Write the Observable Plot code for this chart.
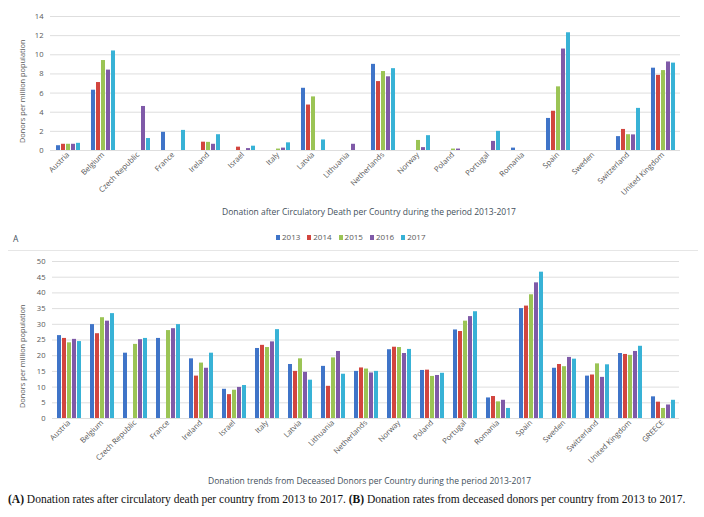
<!DOCTYPE html>
<html>
<head>
<meta charset="utf-8">
<script src="https://cdn.jsdelivr.net/npm/d3@7"></script>
<script src="https://cdn.jsdelivr.net/npm/@observablehq/plot@0.6"></script>
<style>
  html, body { margin: 0; padding: 0; background: #fff; }
  #wrap { position: relative; width: 704px; height: 517px; overflow: hidden; background: #fff; }
  .abs { position: absolute; white-space: nowrap; }
  .ttl { font-family: "Open Sans", sans-serif; font-size: 8.5px; color: #44505c; }
  .ylab { font-family: "Open Sans", sans-serif; font-size: 7.4px; color: #595959; transform-origin: 0 0; transform: rotate(-90deg); }
  .leg { font-family: "Open Sans", sans-serif; font-size: 8px; color: #595959; display: flex; gap: 7px; align-items: center; }
  .leg span.sw { display: inline-block; width: 4px; height: 5px; margin-right: 2px; }
  .cap { font-family: "Liberation Serif", serif; font-size: 11.5px; color: #111; }
  .sep { position: absolute; height: 1px; background: #e6e6e6; }
</style>
</head>
<body>
<div id="wrap"></div>
<script>
const years = ["2013", "2014", "2015", "2016", "2017"];
const colors = ["#3f74c8", "#d2453f", "#9bc455", "#7f5aa8", "#38b2d6"];

// Panel A: donation after circulatory death
const countriesA = ["Austria", "Belgium", "Czech Republic", "France", "Ireland", "Israel", "Italy", "Latvia", "Lithuania", "Netherlands", "Norway", "Poland", "Portugal", "Romania", "Spain", "Sweden", "Switzerland", "United Kingdom"];
const dcd2013 = [0.5, 6.3, 0, 1.9, 0, 0, 0, 6.5, 0, 9.0, 0, 0, 0, 0.25, 3.35, 0, 1.45, 8.6];
const dcd2014 = [0.65, 7.1, 0, 0, 0.87, 0.35, 0, 4.75, 0, 7.2, 0, 0, 0, 0, 4.1, 0, 2.2, 7.85];
const dcd2015 = [0.65, 9.4, 0, 0, 0.85, 0, 0.15, 5.6, 0, 8.25, 1.05, 0.15, 0, 0, 6.65, 0, 1.65, 8.35];
const dcd2016 = [0.65, 8.4, 4.6, 0, 0.65, 0.2, 0.25, 0, 0.65, 7.7, 0.3, 0.15, 0.95, 0, 10.6, 0, 1.63, 9.25];
const dcd2017 = [0.75, 10.4, 1.25, 2.1, 1.65, 0.45, 0.8, 1.1, 0, 8.55, 1.55, 0, 2.0, 0, 12.3, 0, 4.4, 9.13];
const ticksA = [0, 2, 4, 6, 8, 10, 12, 14];

// Panel B: deceased donors
const countriesB = ["Austria", "Belgium", "Czech Republic", "France", "Ireland", "Israel", "Italy", "Latvia", "Lithuania", "Netherlands", "Norway", "Poland", "Portugal", "Romania", "Spain", "Sweden", "Switzerland", "United Kingdom", "GREECE"];
const dd2013 = [26.4, 29.9, 20.8, 25.5, 19.0, 9.3, 22.3, 17.2, 16.6, 15.0, 21.9, 15.3, 28.2, 6.55, 35.0, 16.0, 13.5, 20.7, 6.9];
const dd2014 = [25.5, 27.0, 0, 0, 13.5, 7.6, 23.3, 15.0, 10.25, 16.1, 22.7, 15.4, 27.7, 7.0, 35.8, 17.2, 13.85, 20.4, 5.2];
const dd2015 = [24.1, 32.1, 23.6, 28.0, 17.65, 9.0, 22.6, 19.0, 19.3, 15.75, 22.6, 13.4, 31.0, 5.3, 39.4, 16.5, 17.4, 20.1, 3.2];
const dd2016 = [25.2, 31.0, 25.1, 28.6, 16.0, 9.9, 24.4, 14.7, 21.35, 14.5, 20.7, 13.7, 32.45, 5.8, 43.2, 19.45, 13.1, 21.35, 4.3];
const dd2017 = [24.5, 33.4, 25.5, 29.9, 20.8, 10.5, 28.3, 12.2, 14.1, 15.0, 22.0, 14.4, 34.0, 3.2, 46.6, 18.9, 17.1, 23.0, 5.8];
const ticksB = [0, 5, 10, 15, 20, 25, 30, 35, 40, 45, 50];

const titleA = "Donation after Circulatory Death per Country during the period 2013-2017";
const titleB = "Donation trends from Deceased Donors per Country during the period 2013-2017";
const yLabel = "Donors per million population";

function toRows(countries, series) {
  const rows = [];
  countries.forEach((c, i) => {
    series.forEach((s, j) => rows.push({country: c, year: years[j], value: s[i]}));
  });
  return rows;
}

function panel(countries, series, ticks, height, marginTop, marginBottom) {
  const data = toRows(countries, series);
  return Plot.plot({
    width: 704,
    height,
    marginLeft: 50,
    marginRight: 24,
    marginTop,
    marginBottom,
    style: {fontFamily: "Open Sans, sans-serif", fontSize: "7.6px", color: "#595959", background: "transparent", overflow: "visible"},
    facet: {data, x: "country"},
    fx: {domain: countries, padding: 0, axis: "bottom", label: null, tickRotate: -45, tickSize: 0, tickPadding: 3},
    x: {domain: years, axis: null, paddingInner: 0.2, paddingOuter: 0.8},
    y: {domain: [0, ticks[ticks.length - 1]], ticks, tickSize: 0, tickPadding: 7, label: null},
    color: {domain: years, range: colors},
    marks: [
      Plot.ruleY(ticks, {stroke: "#dedede", strokeWidth: 1}),
      Plot.barY(data, {x: "year", y: "value", fill: "year"})
    ]
  });
}

const wrap = document.getElementById("wrap");

const svgA = panel(countriesA, [dcd2013, dcd2014, dcd2015, dcd2016, dcd2017], ticksA, 200, 16, 50);
svgA.style.position = "absolute"; svgA.style.left = "0px"; svgA.style.top = "0px";
wrap.appendChild(svgA);

const svgB = panel(countriesB, [dd2013, dd2014, dd2015, dd2016, dd2017], ticksB, 250, 11, 82);
svgB.style.position = "absolute"; svgB.style.left = "0px"; svgB.style.top = "250px";
wrap.appendChild(svgB);

function addDiv(cls, text, left, top) {
  const d = document.createElement("div");
  d.className = "abs " + cls;
  d.textContent = text;
  d.style.left = left + "px";
  d.style.top = top + "px";
  wrap.appendChild(d);
  return d;
}

addDiv("ylab", yLabel, 17, 143);
addDiv("ylab", yLabel, 17, 408);
addDiv("ttl", titleA, 222, 206);
addDiv("ttl", titleB, 208, 475);
addDiv("ttl", "A", 13, 233).style.fontSize = "8.5px";

const leg = document.createElement("div");
leg.className = "abs leg";
leg.style.left = "276px"; leg.style.top = "231px";
years.forEach((y, i) => {
  const item = document.createElement("span");
  const sw = document.createElement("span");
  sw.className = "sw"; sw.style.background = colors[i];
  item.appendChild(sw);
  item.appendChild(document.createTextNode(y));
  leg.appendChild(item);
});
wrap.appendChild(leg);

const sep = document.createElement("div");
sep.className = "sep"; sep.style.left = "8px"; sep.style.width = "690px"; sep.style.top = "250px";
wrap.appendChild(sep);

const cap = document.createElement("div");
cap.className = "abs cap";
cap.style.left = "8px"; cap.style.top = "493px";
cap.innerHTML = "<b>(A)</b> Donation rates after circulatory death per country from 2013 to 2017. <b>(B)</b> Donation rates from deceased donors per country from 2013 to 2017.";
wrap.appendChild(cap);
</script>
</body>
</html>
